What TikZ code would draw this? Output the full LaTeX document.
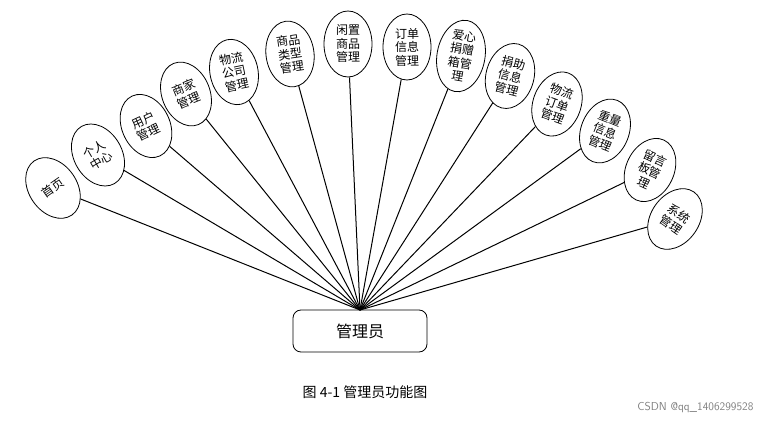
\documentclass[tikz,border=0pt]{standalone}
\usepackage{fontspec}
\setmainfont{Noto Sans CJK SC}
\usetikzlibrary{shapes.geometric}
\begin{document}
\begin{tikzpicture}[x=1pt,y=-1pt,
  fn/.style={ellipse,draw,thick,fill=white,minimum width=48,minimum height=66,inner sep=0pt,align=center,font=\fontsize{12}{13.5}\selectfont},
  ln/.style={line width=1pt}]
\useasboundingbox (0,0) rectangle (769,427);
\node[draw,thick,rounded corners=8pt,minimum width=134,minimum height=42,font=\fontsize{16}{18}\selectfont] (box) at (360,331) {管理员};
\coordinate (hub) at (360,310);
\node[fn,rotate=35] (e1) at (53,188) {首页};
\node[fn,rotate=30] (e2) at (98,155) {个人\\中心};
\node[fn,rotate=25] (e3) at (146,126) {用户\\管理};
\node[fn,rotate=22] (e4) at (186,94) {商家\\管理};
\node[fn,rotate=12] (e5) at (234,72) {物流\\公司\\管理};
\node[fn,rotate=8] (e6) at (290,54) {商品\\类型\\管理};
\node[fn,rotate=0] (e7) at (348,44) {闲置\\商品\\管理};
\node[fn,rotate=0] (e8) at (407,47) {订单\\信息\\管理};
\node[fn,rotate=-10] (e9) at (461,56) {爱心\\捐赠\\箱管\\理};
\node[fn,rotate=-15] (e10) at (510,76) {捐助\\信息\\管理};
\node[fn,rotate=-20] (e11) at (557,104) {物流\\订单\\管理};
\node[fn,rotate=-22] (e12) at (605,131) {重量\\信息\\管理};
\node[fn,rotate=-25] (e13) at (650,170) {留言\\板管\\理};
\node[fn,rotate=-35] (e14) at (675,219) {系统\\管理};
\foreach \i in {1,...,14} \draw[ln] (hub) -- (e\i);
\node[font=\fontsize{14}{16}\selectfont] (cap) at (365,392) {图 4-1 管理员功能图};
\node[font=\sffamily\fontsize{11.5}{13}\selectfont,text=gray,anchor=east] (wm) at (757,408) {CSDN @qq\_1406299528};
\end{tikzpicture}
\end{document}
